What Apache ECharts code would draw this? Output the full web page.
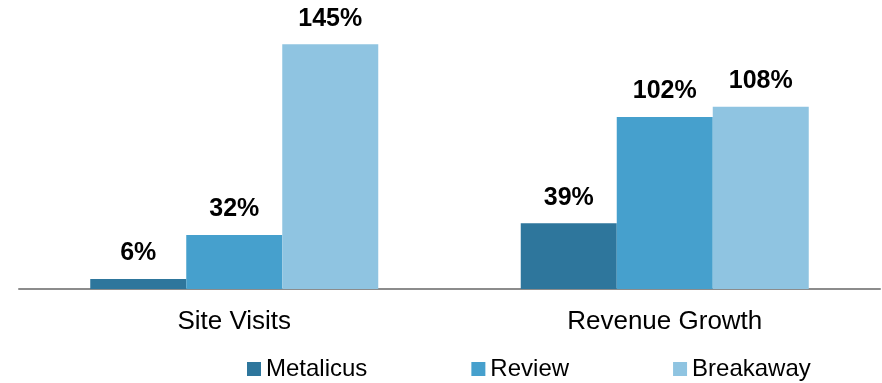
<!DOCTYPE html>
<html>
<head>
<meta charset="utf-8">
<script src="https://cdn.jsdelivr.net/npm/echarts@6/dist/echarts.min.js"></script>
<style>
  html, body { margin: 0; padding: 0; background: #ffffff; }
  #chart { width: 882px; height: 383px; }
</style>
</head>
<body>
<div id="chart"></div>
<script>
// Growth comparison by metric, values in percent
const categories = ['Site Visits', 'Revenue Growth'];
const seriesNames = ['Metalicus', 'Review', 'Breakaway'];
const metalicus = [6, 39];
const review = [32, 102];
const breakaway = [145, 108];

const seriesValues = [metalicus, review, breakaway];
const colors = ['#2e769c', '#46a0cd', '#8fc4e1'];
const FONT = '"Liberation Sans", Arial, sans-serif';

const chart = echarts.init(document.getElementById('chart'), null, { renderer: 'canvas' });

chart.setOption({
  animation: false,
  color: colors,
  grid: { left: 19, right: 2, top: 19, bottom: 94, containLabel: false },
  legend: {
    data: seriesNames,
    left: 247,
    top: 357,
    padding: 0,
    itemWidth: 14,
    itemHeight: 14,
    itemGap: 104,
    icon: 'rect',
    textStyle: { fontFamily: FONT, fontSize: 24, color: '#000000' }
  },
  xAxis: {
    type: 'category',
    data: categories,
    axisLine: { show: true, lineStyle: { color: '#8c8c8c', width: 2 } },
    axisTick: { show: false },
    axisLabel: { fontFamily: FONT, fontSize: 26, color: '#000000', margin: 20 }
  },
  yAxis: {
    type: 'value',
    min: 0,
    max: 160,
    show: false,
    splitLine: { show: false }
  },
  series: seriesNames.map((name, i) => ({
    name: name,
    type: 'bar',
    data: seriesValues[i],
    barWidth: 96,
    barGap: '0%',
    itemStyle: { color: colors[i] },
    label: {
      show: true,
      position: 'top',
      distance: 13,
      formatter: '{c}%',
      fontFamily: FONT,
      fontSize: 25,
      fontWeight: 'bold',
      color: '#000000'
    }
  }))
});
</script>
</body>
</html>
